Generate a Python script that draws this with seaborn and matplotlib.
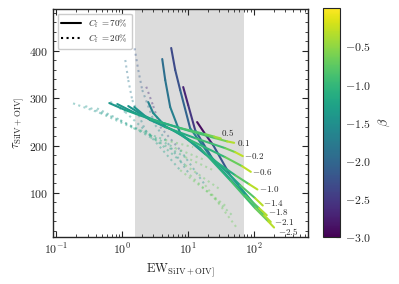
import numpy as np
import pandas as pd
import matplotlib
matplotlib.use("Agg")
import matplotlib.pyplot as plt
import seaborn as sns
from matplotlib.ticker import AutoMinorLocator
from matplotlib.lines import Line2D

# ================= DATA =================
# Cf = 70% tracks (solid): EW, tau and beta along each track, end label
solid_labels = ["0.5", "0.1", "-0.2", "-0.6", "-1.0", "-1.4", "-1.8", "-2.1", "-2.5"]
solid_ew = [
    [0.642, 1.122, 2.684, 7.64, 18.3, 25.0, 31.6],
    [0.849, 1.591, 3.80, 10.8, 25.9, 39.4, 50.3],
    [1.536, 2.254, 4.53, 12.9, 36.7, 52.1, 68.1],
    [2.50, 2.98, 4.53, 10.8, 36.7, 66.5, 90.1],
    [4.08, 4.53, 5.39, 7.64, 18.3, 52.1, 84.9, 113.5],
    [5.58, 6.42, 7.64, 10.8, 21.8, 62.0, 104.7, 136.8],
    [8.49, 10.1, 12.9, 25.9, 73.8, 120.3, 157.4],
    [13.8, 18.3, 24.2, 43.7, 104.7, 143.2, 181.0],
    [1.245, 2.684, 6.42, 15.4, 43.7, 104.7, 164.8, 203.0],
]
solid_tau = [
    [289.6, 274.8, 255.8, 236.8, 224.1, 218.8, 215.0],
    [287.5, 268.5, 249.5, 230.4, 215.6, 208.7, 205.7],
    [281.2, 262.1, 238.9, 215.6, 194.5, 186.0, 177.6],
    [291.7, 268.5, 241.0, 211.4, 175.5, 156.4, 144.4],
    [382.6, 338.2, 281.2, 226.2, 181.8, 137.4, 118.4, 107.2],
    [405.9, 359.4, 317.1, 236.8, 177.6, 116.3, 88.8, 73.4],
    [323.4, 285.4, 232.5, 162.8, 95.1, 67.7, 52.9],
    [249.5, 224.1, 200.8, 137.4, 74.0, 52.9, 38.7],
    [283.3, 253.7, 230.4, 194.5, 126.8, 67.7, 40.2, 26.9],
]
solid_beta = [
    [-1.45, -1.35, -1.2, -1.0, -0.75, -0.55, -0.3],
    [-1.45, -1.35, -1.2, -1.0, -0.75, -0.5, -0.2],
    [-1.5, -1.4, -1.25, -1.05, -0.8, -0.5, -0.1],
    [-1.75, -1.6, -1.45, -1.2, -0.85, -0.55, -0.05],
    [-1.95, -1.9, -1.8, -1.6, -1.3, -0.95, -0.6, -0.05],
    [-2.35, -2.3, -2.2, -1.9, -1.5, -1.0, -0.6, -0.05],
    [-2.75, -2.65, -2.4, -1.7, -1.0, -0.6, -0.1],
    [-2.95, -2.85, -2.6, -1.8, -1.0, -0.6, -0.1],
    [-1.5, -1.4, -1.3, -1.2, -1.0, -0.8, -0.55, -0.1],
]
# label nudges (points) so the crowded end labels stay readable
label_dx = [0, 2, 1, 1, 1, 0, 1, 2, 3]
label_dy = [4, 0, 0, 0, 0, 2, 2, 0, -3]

# Cf = 20% tracks (dotted)
dot_ew = [
    [0.181, 0.469, 1.483, 4.53, 12.0],
    [0.278, 0.665, 1.893, 6.42, 18.3],
    [0.418, 0.942, 2.684, 9.10, 24.2],
    [0.665, 1.122, 2.684, 9.10, 32.0],
    [1.122, 1.245, 1.432, 2.254, 7.64, 39.4],
    [1.552, 1.766, 2.03, 3.20, 10.8, 46.9],
    [2.335, 2.98, 3.80, 7.64, 18.3, 55.8],
]
dot_tau = [
    [289.0, 268.5, 236.8, 211.4, 196.6],
    [283.3, 262.1, 232.5, 194.5, 169.1],
    [278.4, 253.7, 217.7, 175.5, 148.0],
    [292.4, 270.6, 222.0, 158.6, 105.7],
    [380.5, 338.2, 296.0, 232.5, 148.0, 69.8],
    [405.3, 359.4, 317.1, 243.1, 137.4, 52.9],
    [324.1, 283.3, 239.5, 190.3, 116.3, 25.4],
]
dot_beta = [
    [-1.5, -1.4, -1.25, -1.0, -0.5],
    [-1.5, -1.4, -1.25, -1.0, -0.45],
    [-1.5, -1.4, -1.25, -1.0, -0.4],
    [-1.6, -1.5, -1.35, -1.05, -0.35],
    [-1.9, -1.85, -1.75, -1.5, -1.1, -0.3],
    [-2.2, -2.15, -2.05, -1.75, -1.2, -0.3],
    [-2.7, -2.6, -2.4, -1.8, -1.1, -0.25],
]

span_lo, span_hi = 1.6, 70
beta_min, beta_max = -3.0, 0.0


# ================= STYLE =================
sns.set_style("ticks")
plt.rcParams["font.family"] = "serif"
plt.rcParams["font.serif"] = ["cmr10"]
plt.rcParams["mathtext.fontset"] = "cm"
plt.rcParams["axes.formatter.use_mathtext"] = True
plt.rcParams["axes.unicode_minus"] = True


def segments_frame(ews, taus, betas, prefix):
    # one two-point line per segment, coloured by mean beta of the segment
    rows = []
    for i, (xs, ys, bs) in enumerate(zip(ews, taus, betas)):
        for j in range(len(xs) - 1):
            b = 0.5 * (bs[j] + bs[j + 1])
            uid = f"{prefix}{i}_{j}"
            rows.append((uid, j, xs[j], ys[j], b))
            rows.append((uid, j + 1, xs[j + 1], ys[j + 1], b))
    return pd.DataFrame(rows, columns=["seg", "order", "ew", "tau", "beta"])


df_solid = segments_frame(solid_ew, solid_tau, solid_beta, "s")
df_dot = segments_frame(dot_ew, dot_tau, dot_beta, "d")


# ================= PLOT =================
fig = plt.figure(figsize=(3.99, 2.84), dpi=100)
ax = fig.add_axes([0.133, 0.164, 0.639, 0.804])
cax = fig.add_axes([0.81, 0.165, 0.043, 0.806])

ax.axvspan(span_lo, span_hi, color="#dcdcdc", lw=0, zorder=0)

sns.lineplot(data=df_dot, x="ew", y="tau", hue="beta", units="seg",
             estimator=None, sort=False, palette="viridis",
             hue_norm=(beta_min, beta_max), legend=False, ax=ax,
             lw=1.5, ls=":", alpha=0.4)
sns.lineplot(data=df_solid, x="ew", y="tau", hue="beta", units="seg",
             estimator=None, sort=False, palette="viridis",
             hue_norm=(beta_min, beta_max), legend=False, ax=ax,
             lw=1.5, solid_capstyle="round")

for lab, xs, ys, dx, dy in zip(solid_labels, solid_ew, solid_tau,
                               label_dx, label_dy):
    ax.annotate(r"$%s$" % lab, (xs[-1], ys[-1]), xytext=(dx, dy),
                textcoords="offset points", fontsize=6.5,
                ha="left", va="center")

ax.set_xscale("log")
ax.set_xlim(0.09, 665)
ax.set_ylim(6, 488)
ax.yaxis.set_minor_locator(AutoMinorLocator(5))
ax.tick_params(which="both", direction="in", top=True, right=True,
               labelsize=8.5)
ax.tick_params(which="major", length=4)
ax.tick_params(which="minor", length=2)
for s in ax.spines.values():
    s.set_linewidth(1.0)

ax.set_xlabel(r"$\mathrm{EW}_{\rm SiIV+OIV]}$", fontsize=9, labelpad=3)
ax.set_ylabel(r"$\tau_{\rm SiIV+OIV]}$", fontsize=9, labelpad=2)

handles = [Line2D([], [], color="k", lw=1.5, ls="-"),
           Line2D([], [], color="k", lw=1.5, ls=":")]
ax.legend(handles, [r"$C_{\rm f}\ =70\%$", r"$C_{\rm f}\ =20\%$"],
          loc="upper left", fontsize=6.5, handlelength=2.2,
          borderpad=0.4, labelspacing=0.3, framealpha=1,
          edgecolor="#cccccc")

sm = plt.cm.ScalarMappable(cmap="viridis",
                           norm=plt.Normalize(beta_min, beta_max))
cb = fig.colorbar(sm, cax=cax)
cb.set_ticks([-3.0, -2.5, -2.0, -1.5, -1.0, -0.5])
cb.ax.tick_params(direction="in", labelsize=8.5, length=3)
cb.set_label(r"$\beta$", fontsize=9, labelpad=4)

plt.savefig("out.png", dpi=100)
